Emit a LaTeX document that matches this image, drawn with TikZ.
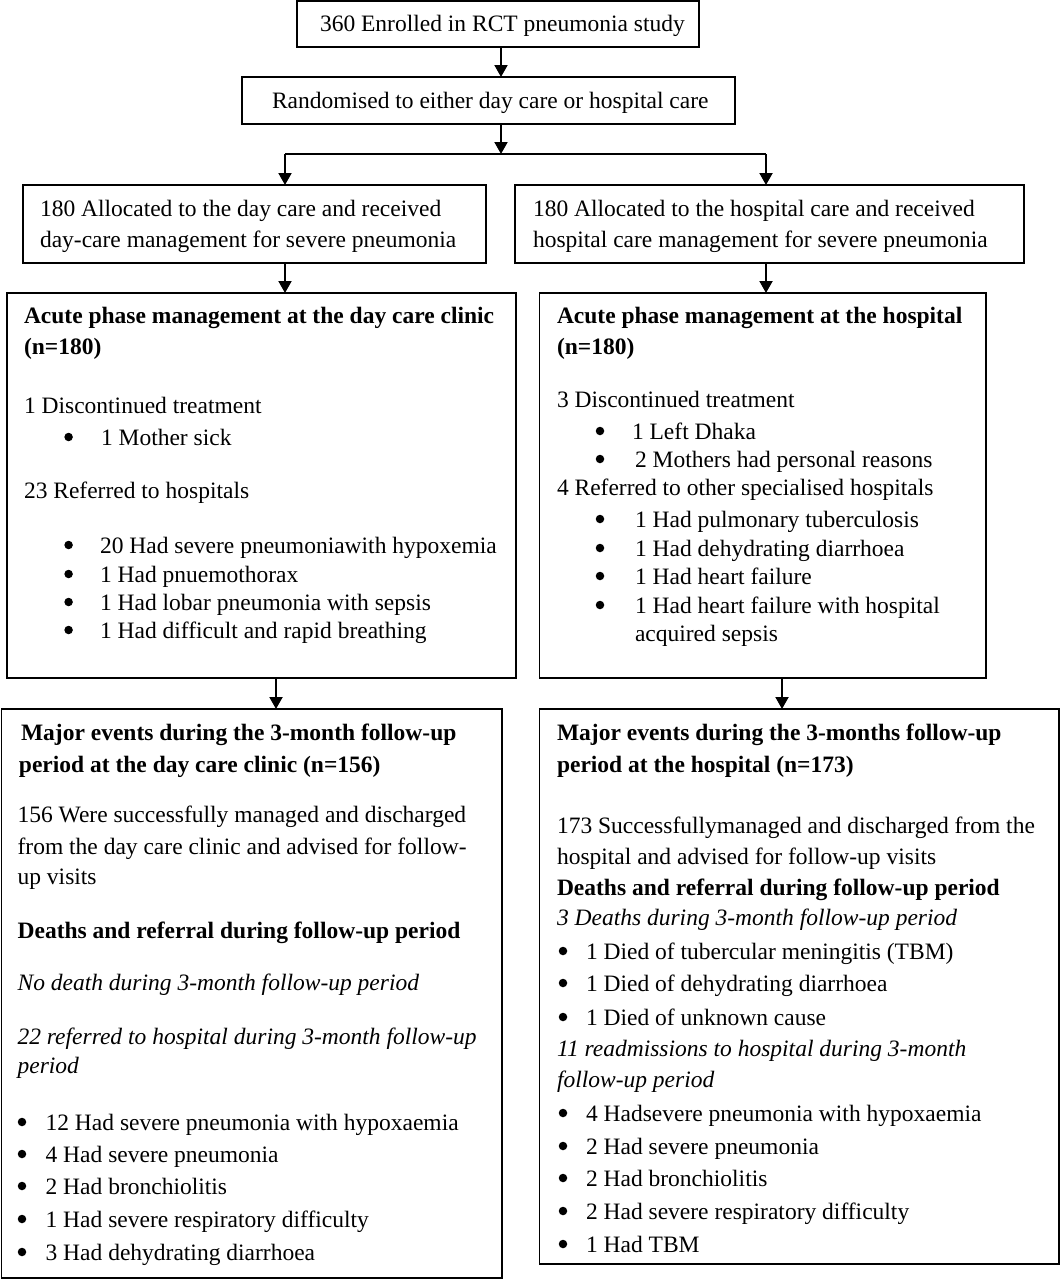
\documentclass[tikz,border=0pt]{standalone}
\usepackage{fontspec}
\setmainfont{Liberation Serif}
\usetikzlibrary{arrows.meta}
\newcommand\mytx[4]{\node[txt] (#1) at (#2,#3) {#4};}
\newcommand\mybul[5]{\node[dot] (#1b) at (#2,#4-8) {}; \node[txt] (#1) at (#3,#4) {#5};}
\begin{document}
\begin{tikzpicture}[x=1pt,y=-1pt,font=\fontsize{23.5}{28}\selectfont,
  box/.style={draw, line width=1.6pt, inner sep=0pt, outer sep=0pt, anchor=north west},
  txt/.style={anchor=base west, inner sep=0pt, outer sep=0pt},
  dot/.style={circle, fill=black, inner sep=0pt, minimum size=8.5pt},
  conn/.style={line width=2pt, -{Triangle[length=12pt,width=13pt]}},
  lin/.style={line width=2pt}]
\fill[white] (0,0) rectangle (1061,1280);
\useasboundingbox (0,0) rectangle (1061,1280);

% boxes
\node[box, minimum width=402pt, minimum height=46pt] (b1) at (297,1) {};
\node[box, minimum width=493pt, minimum height=47pt] (b2) at (242,77) {};
\node[box, minimum width=463pt, minimum height=78pt] (b3L) at (23,185) {};
\node[box, minimum width=509pt, minimum height=78pt] (b3R) at (515,185) {};
\node[box, minimum width=509pt, minimum height=385pt] (b4L) at (7,293) {};
\node[box, minimum width=446.5pt, minimum height=385pt] (b4R) at (539.5,293) {};
\node[box, minimum width=500.5pt, minimum height=569pt] (b5L) at (1.5,709) {};
\node[box, minimum width=519.5pt, minimum height=555pt] (b5R) at (539.5,709) {};

% connector x positions
\coordinate (j) at (501,154);
\coordinate (jl) at (285,154);
\coordinate (jr) at (766,154);
\coordinate (xl) at (276,0);
\coordinate (xr) at (782,0);

\draw[conn] (b1.south -| j) -- (b2.north -| j);
\draw[conn] (b2.south -| j) -- (j);
\draw[lin] (jl) -- (jr);
\draw[conn] (jl) -- (b3L.north -| jl);
\draw[conn] (jr) -- (b3R.north -| jr);
\draw[conn] (b3L.south -| jl) -- (b4L.north -| jl);
\draw[conn] (b3R.south -| jr) -- (b4R.north -| jr);
\draw[conn] (b4L.south -| xl) -- (b5L.north -| xl);
\draw[conn] (b4R.south -| xr) -- (b5R.north -| xr);

% top texts
\mytx{t1}{320}{31}{360 Enrolled in RCT pneumonia study}
\mytx{t2}{272}{108}{Randomised to either day care or hospital care}
\mytx{t3a}{40}{216}{180 Allocated to the day care and received}
\mytx{t3b}{40}{247}{day-care management for severe pneumonia}
\mytx{t3c}{533}{216}{180 Allocated to the hospital care and received}
\mytx{t3d}{533}{247}{hospital care management for severe pneumonia}

% acute day care
\mytx{l1}{24}{323}{\bfseries Acute phase management at the day care clinic}
\mytx{l2}{24}{354}{\bfseries (n=180)}
\mytx{l3}{24}{413}{1 Discontinued treatment}
\mybul{l4}{68.6}{101}{445}{1 Mother sick}
\mytx{l5}{24}{498}{23 Referred to hospitals}
\mybul{l6}{68.6}{100}{553}{20 Had severe pneumoniawith hypoxemia}
\mybul{l7}{68.6}{100}{582}{1 Had pnuemothorax}
\mybul{l8}{68.6}{100}{610}{1 Had lobar pneumonia with sepsis}
\mybul{l9}{68.6}{100}{638}{1 Had difficult and rapid breathing}

% acute hospital
\mytx{r1}{557}{323}{\bfseries Acute phase management at the hospital}
\mytx{r2}{557}{354}{\bfseries (n=180)}
\mytx{r3}{557}{407}{3 Discontinued treatment}
\mybul{r4}{600}{632}{439}{1 Left Dhaka}
\mybul{r5}{600}{635}{467}{2 Mothers had personal reasons}
\mytx{r6}{557}{495}{4 Referred to other specialised hospitals}
\mybul{r7}{600}{635}{527}{1 Had pulmonary tuberculosis}
\mybul{r8}{600}{635}{556}{1 Had dehydrating diarrhoea}
\mybul{r9}{600}{635}{584}{1 Had heart failure}
\mybul{r10}{600}{635}{613}{1 Had heart failure with hospital}
\mytx{r11}{635}{641}{acquired sepsis}

% follow-up day care
\mytx{m1}{21}{740}{\bfseries Major events during the 3-month follow-up}
\mytx{m2}{19}{772}{\bfseries period at the day care clinic (n=156)}
\mytx{m3}{17.6}{822}{156 Were successfully managed and discharged}
\mytx{m4}{17.6}{854}{from the day care clinic and advised for follow-}
\mytx{m5}{17.6}{884}{up visits}
\mytx{m6}{17.6}{938}{\bfseries Deaths and referral during follow-up period}
\mytx{m7}{17.6}{990}{\itshape No death during 3-month follow-up period}
\mytx{m8}{17.6}{1044}{\itshape 22 referred to hospital during 3-month follow-up}
\mytx{m9}{17.6}{1073}{\itshape period}
\mybul{m10}{22}{45.6}{1130}{12 Had severe pneumonia with hypoxaemia}
\mybul{m11}{22}{45.6}{1162}{4 Had severe pneumonia}
\mybul{m12}{22}{45.6}{1194}{2 Had bronchiolitis}
\mybul{m13}{22}{45.6}{1227}{1 Had severe respiratory difficulty}
\mybul{m14}{22}{45.6}{1260}{3 Had dehydrating diarrhoea}

% follow-up hospital
\mytx{h1}{557}{740}{\bfseries Major events during the 3-months follow-up}
\mytx{h2}{557}{772}{\bfseries period at the hospital (n=173)}
\mytx{h3}{557}{833}{173 Successfullymanaged and discharged from the}
\mytx{h4}{557}{864}{hospital and advised for follow-up visits}
\mytx{h5}{557}{895}{\bfseries Deaths and referral during follow-up period}
\mytx{h6}{557}{925}{\itshape 3 Deaths during 3-month follow-up period}
\mybul{h7}{563}{586}{959}{1 Died of tubercular meningitis (TBM)}
\mybul{h8}{563}{586}{991}{1 Died of dehydrating diarrhoea}
\mybul{h9}{563}{586}{1025}{1 Died of unknown cause}
\mytx{h10}{557}{1056}{\itshape 11 readmissions to hospital during 3-month}
\mytx{h11}{557}{1087}{\itshape follow-up period}
\mybul{h12}{563}{586}{1121}{4 Hadsevere pneumonia with hypoxaemia}
\mybul{h13}{563}{586}{1154}{2 Had severe pneumonia}
\mybul{h14}{563}{586}{1186}{2 Had bronchiolitis}
\mybul{h15}{563}{586}{1219}{2 Had severe respiratory difficulty}
\mybul{h16}{563}{586}{1252}{1 Had TBM}
\end{tikzpicture}
\end{document}
